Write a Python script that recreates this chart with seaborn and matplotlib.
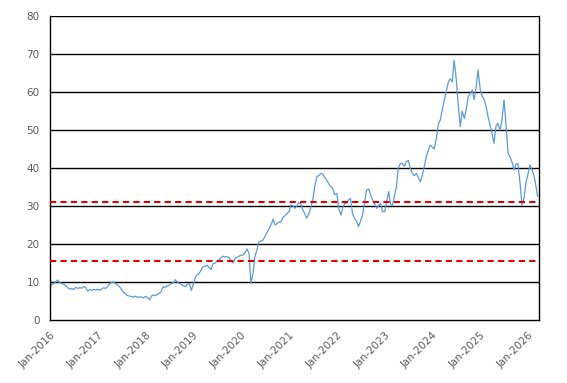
import numpy as np
import pandas as pd
import seaborn as sns
import matplotlib.pyplot as plt
import matplotlib.dates as mdates

# semi-monthly readings (1st and 15th of each month)
v2016 = [8.8, 9.3, 9.6, 10.2, 10.5, 9.8, 9.6, 9.4, 9.0, 8.5, 8.1, 8.3,
         8.0, 8.6, 8.3, 8.5, 8.4, 8.8, 8.5, 7.6, 8.0, 7.8, 8.1, 7.9]
v2017 = [8.1, 7.8, 8.2, 8.5, 8.3, 8.8, 9.5, 9.9, 10.0, 9.6, 9.2, 8.8,
         8.0, 7.3, 6.8, 6.4, 6.3, 6.2, 6.0, 6.3, 5.9, 6.1, 6.0, 5.8]
v2018 = [6.2, 5.9, 5.3, 6.3, 6.6, 6.4, 6.8, 7.0, 7.6, 8.8, 8.6, 9.0,
         9.2, 9.6, 9.8, 10.6, 10.0, 9.6, 9.4, 9.0, 8.8, 9.4, 9.6, 7.8]
v2019 = [9.5, 11.2, 12.0, 12.3, 13.2, 14.0, 14.2, 14.4, 13.8, 13.3, 14.9, 15.0,
         15.5, 15.8, 16.4, 16.8, 16.6, 16.7, 16.4, 15.6, 15.0, 16.3, 16.5, 16.8]
v2020 = [17.1, 17.1, 17.8, 18.7, 17.5, 9.6, 12.5, 16.7, 18.6, 20.6, 20.8, 21.0,
         22.0, 23.0, 24.0, 25.0, 26.5, 25.0, 25.4, 25.8, 25.9, 27.0, 27.5, 28.0]
v2021 = [28.5, 30.3, 30.0, 29.4, 30.0, 30.9, 30.5, 29.0, 28.0, 26.8, 28.0, 29.5,
         31.6, 35.0, 37.7, 38.0, 38.6, 38.4, 37.5, 36.8, 35.8, 35.2, 34.5, 33.0]
v2022 = [33.3, 29.4, 27.6, 29.5, 30.7, 30.7, 31.6, 32.0, 28.0, 26.8, 26.0, 24.6,
         26.0, 27.5, 31.0, 34.2, 34.5, 33.0, 31.6, 30.7, 29.4, 30.0, 30.7, 28.5]
v2023 = [28.5, 31.0, 33.8, 30.5, 30.0, 32.5, 35.0, 40.0, 41.2, 41.2, 40.5, 41.7,
         42.0, 40.0, 38.6, 38.0, 38.6, 37.5, 36.4, 38.0, 40.5, 43.0, 44.7, 46.0]
v2024 = [45.5, 45.0, 48.0, 51.5, 52.6, 55.0, 58.0, 60.0, 62.5, 63.5, 62.7, 68.4,
         63.5, 57.0, 50.9, 55.0, 53.0, 55.5, 58.8, 59.5, 60.5, 58.0, 61.5, 65.8]
v2025 = [60.5, 59.0, 57.9, 56.0, 53.5, 51.5, 49.1, 46.5, 51.0, 51.8, 50.0, 52.5,
         57.9, 52.0, 43.9, 43.0, 41.5, 39.5, 41.0, 41.2, 36.0, 30.3, 32.0, 36.0]
v2026 = [38.5, 40.8, 39.5, 38.0, 35.5, 32.5]

upper_level = 31.1
lower_level = 15.55

values = v2016 + v2017 + v2018 + v2019 + v2020 + v2021 + v2022 + v2023 + v2024 + v2025 + v2026
dates = pd.date_range('2016-01-01', periods=len(values), freq='SMS')
df = pd.DataFrame({'date': dates, 'value': values})

sns.set_style('white')
plt.rcParams['font.family'] = ['DejaVu Sans']

fig = plt.figure(figsize=(5.67, 3.83), dpi=100)
ax = fig.add_axes([0.0882, 0.1645, 0.863, 0.7935])

sns.lineplot(data=df, x='date', y='value', ax=ax, color='#5b9bd5', linewidth=0.9)

for y in range(10, 90, 10):
    ax.axhline(y, color='black', linewidth=1.0, zorder=0)
ax.axhline(upper_level, color='#e00000', linewidth=1.5, linestyle=(0, (3, 2)), zorder=3)
ax.axhline(lower_level, color='#e00000', linewidth=1.5, linestyle=(0, (3, 2)), zorder=3)

ax.set_ylim(0, 80)
ax.set_yticks(range(0, 90, 10))
ax.set_xlim(pd.Timestamp('2016-01-01'), pd.Timestamp('2026-03-28'))
ax.xaxis.set_major_locator(mdates.YearLocator())
ax.xaxis.set_major_formatter(mdates.DateFormatter('%b-%Y'))

ax.set_xlabel('')
ax.set_ylabel('')
for s in ax.spines.values():
    s.set_color('black')
    s.set_linewidth(1.0)
ax.spines['top'].set_visible(False)

ax.tick_params(axis='both', colors='black', labelcolor='#595959', labelsize=7.5,
               direction='out', length=4, width=1)
plt.setp(ax.get_xticklabels(), rotation=45, ha='right', rotation_mode='anchor')

fig.savefig('out.png', dpi=100)
